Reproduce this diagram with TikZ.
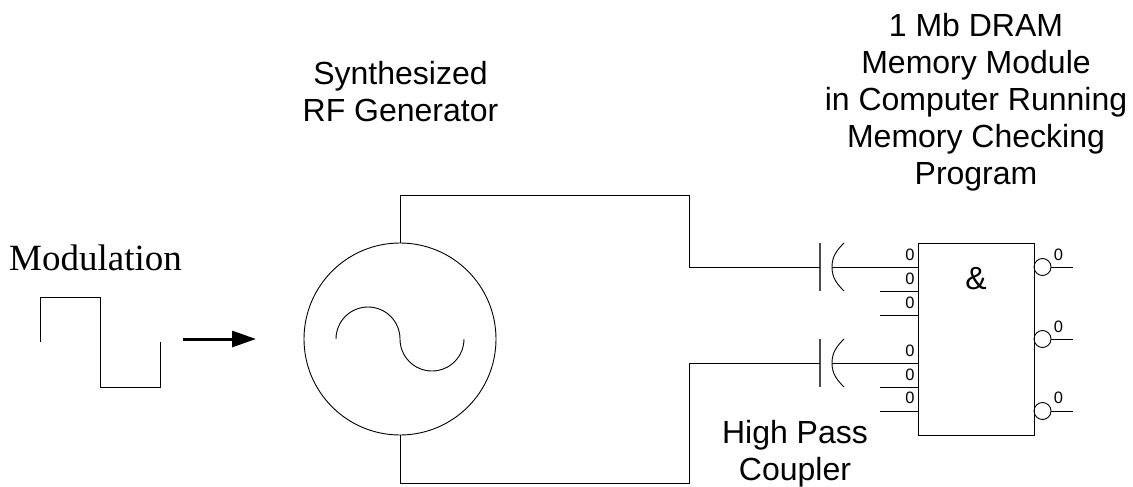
\documentclass[tikz,border=0pt]{standalone}
\usepackage{fontspec}
\setmainfont{Liberation Sans}
\newfontfamily\serifface{Liberation Serif}
\usetikzlibrary{arrows.meta}
\tikzset{
  wire/.style={draw=black,line width=0.9pt},
  plate/.style={draw=black!70,line width=1.2pt},
  big/.style={inner sep=0pt,align=center,font=\fontsize{32}{37}\selectfont},
  zero/.style={inner sep=0pt,font=\fontsize{16.5}{18}\selectfont},
  bubble/.style={draw=black,line width=0.9pt,circle,minimum size=17pt,inner sep=0pt},
  genbox/.style={draw=black,line width=0.9pt,circle,minimum size=192pt,inner sep=0pt},
  gatebox/.style={draw=black,line width=1pt,rectangle,minimum width=116pt,minimum height=192pt,inner sep=0pt}
}
\begin{document}
\begin{tikzpicture}[x=1pt,y=-1pt]
\useasboundingbox (0,0) rectangle (1133,487);
% labels
\node[big] (synth) at (400.5,92) {Synthesized\\RF Generator};
\node[big] (dram) at (976,102) {1 Mb DRAM\\Memory Module\\in Computer Running\\Memory Checking\\Program};
\node[big] (hp) at (795,453.5) {High Pass\\Coupler};
\node[inner sep=0pt,font=\serifface\fontsize{37}{40}\selectfont] (mod) at (95.5,258) {Modulation};
% generator
\node[genbox] (gen) at (400,339) {};
\coordinate (sineL) at (336,339);
\coordinate (topC) at (689,195);
\coordinate (botC) at (689,483);
\draw[wire] (sineL) arc[start angle=180,end angle=360,radius=32] arc[start angle=180,end angle=0,radius=32];
% gate
\node[gatebox] (gate) at (976,339) {};
\node[inner sep=0pt,font=\fontsize{32}{37}\selectfont] (amp) at (976,279) {\&};
% capacitors
\coordinate (c1t) at (820,243); \coordinate (c1b) at (820,291); \coordinate (c1m) at (820,267);
\coordinate (c2t) at (820,339); \coordinate (c2b) at (820,387); \coordinate (c2m) at (820,363);
\coordinate (a1t) at (844,243); \coordinate (a1m) at (832,267); \coordinate (a1b) at (844,291);
\coordinate (a2t) at (844,339); \coordinate (a2m) at (832,363); \coordinate (a2b) at (844,387);
\draw[plate] (c1t) -- (c1b);
\draw[plate] (c2t) -- (c2b);
\draw[wire] (a1t) to[out=225,in=90] (a1m) to[out=270,in=135] (a1b);
\draw[wire] (a2t) to[out=225,in=90] (a2m) to[out=270,in=135] (a2b);
% wires generator to capacitors
\draw[wire] (gen.north) -- (400,195) -- (topC) -- (689,267) -- (c1m);
\draw[wire] (gen.south) -- (400,483) -- (botC) -- (689,363) -- (c2m);
% gate inputs
\draw[wire] (a1m) -- (918,267);
\draw[wire] (a2m) -- (918,363);
\coordinate (s1) at (880,291); \coordinate (s2) at (880,315);
\coordinate (s3) at (880,387); \coordinate (s4) at (880,411);
\draw[wire] (s1) -- (918,291);
\draw[wire] (s2) -- (918,315);
\draw[wire] (s3) -- (918,387);
\draw[wire] (s4) -- (918,411);
\foreach \n/\yy in {a/255,b/279,c/303,d/351,e/375,f/398}{
  \node[zero] (z\n) at (910,\yy) {0};
}
% bubbles and outputs
\node[bubble] (o1) at (1042.5,267) {};
\node[bubble] (o2) at (1042.5,339) {};
\node[bubble] (o3) at (1042.5,411) {};
\coordinate (e1) at (1073,267); \coordinate (e2) at (1073,339); \coordinate (e3) at (1073,411);
\draw[wire] (o1.east) -- (e1);
\draw[wire] (o2.east) -- (e2);
\draw[wire] (o3.east) -- (e3);
\node[zero] (y1) at (1058.5,255) {0};
\node[zero] (y2) at (1058.5,327) {0};
\node[zero] (y3) at (1058.5,398) {0};
% square wave
\coordinate (w0) at (40.5,342); \coordinate (w1) at (40.5,297); \coordinate (w2) at (100.5,297);
\coordinate (w3) at (100.5,387); \coordinate (w4) at (160.5,387); \coordinate (w5) at (160.5,342);
\draw[wire] (w0) -- (w1) -- (w2) -- (w3) -- (w4) -- (w5);
% arrow
\coordinate (ar0) at (183,339); \coordinate (ar1) at (256,339);
\draw[line width=3pt,-{Triangle[length=24pt,width=16pt]}] (ar0) -- (ar1);
\end{tikzpicture}
\end{document}
